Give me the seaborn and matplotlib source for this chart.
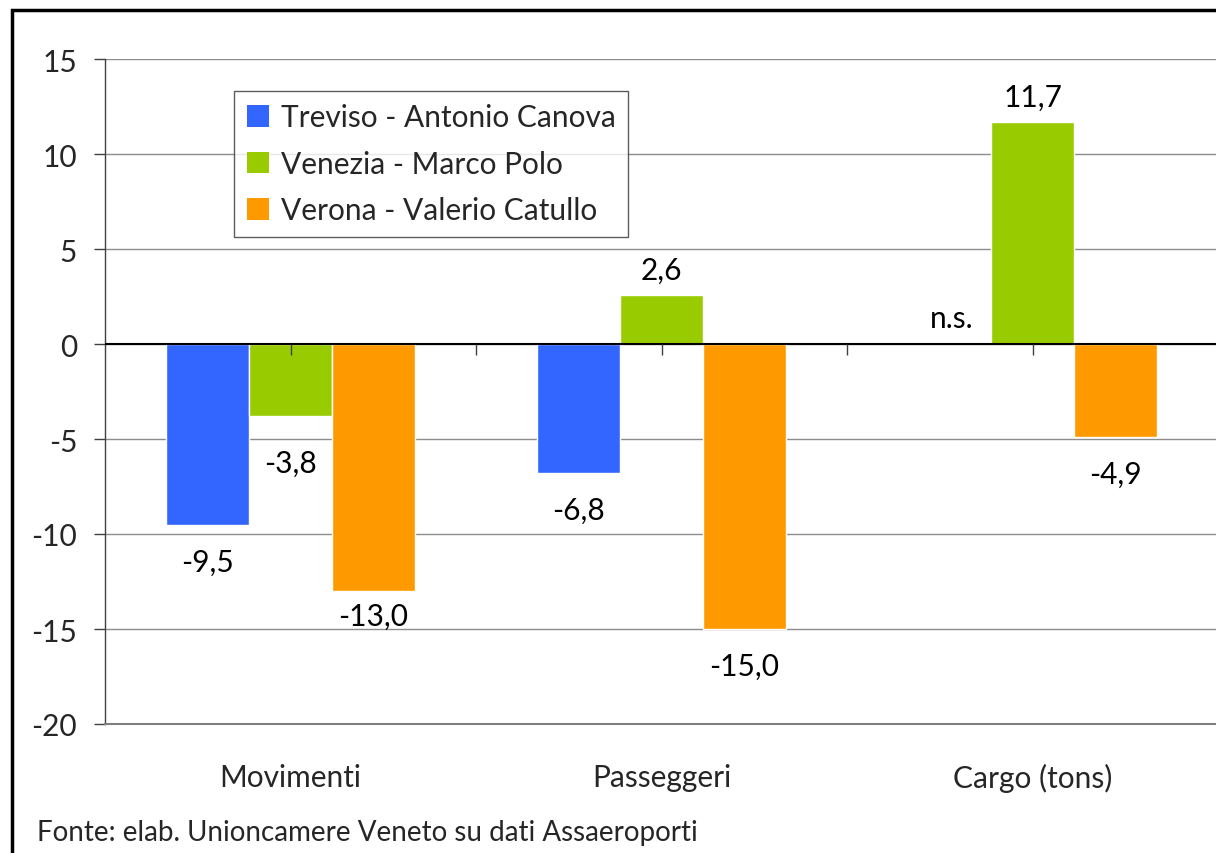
import numpy as np
import pandas as pd
import matplotlib
matplotlib.use("Agg")
import matplotlib.pyplot as plt
import seaborn as sns
from matplotlib.patches import Rectangle, Patch

# Data (variazioni %)
categories = ["Movimenti", "Passeggeri", "Cargo (tons)"]
airports = ["Treviso - Antonio Canova", "Venezia - Marco Polo", "Verona - Valerio Catullo"]
treviso = [-9.5, -6.8, np.nan]   # cargo: n.s.
venezia = [-3.8, 2.6, 11.7]
verona = [-13.0, -15.0, -4.9]
colors = ["#3366FF", "#99CC00", "#FF9900"]
source = "Fonte: elab. Unioncamere Veneto su dati Assaeroporti"

rows = []
for name, vals in zip(airports, [treviso, venezia, verona]):
    for cat, v in zip(categories, vals):
        rows.append({"Categoria": cat, "Aeroporto": name, "Valore": v})
df = pd.DataFrame(rows)

sns.set_theme(style="white")
plt.rcParams["font.family"] = ["Lato", "DejaVu Sans"]
FS = 21.5

fig = plt.figure(figsize=(12.16, 8.54), dpi=100)
ax = fig.add_axes([105 / 1216, 1 - 725 / 854, 1113 / 1216, 665 / 854])

sns.barplot(data=df, x="Categoria", y="Valore", hue="Aeroporto", order=categories,
            hue_order=airports, palette=colors, width=0.67, saturation=1,
            legend=False, ax=ax)

ax.set_xlim(-0.5, 2.5)
ax.set_ylim(-20, 15)
ax.set_yticks(np.arange(-20, 16, 5))
ax.set_yticklabels([f"{int(t)}" for t in np.arange(-20, 16, 5)], fontsize=FS)
ax.tick_params(axis="y", length=8, width=1, color="#404040", pad=12, left=True)
ax.tick_params(axis="x", length=0, pad=28, labelsize=FS)
ax.set_xlabel("")
ax.set_ylabel("")

ax.grid(axis="y", color="#8c8c8c", lw=1)
ax.set_axisbelow(True)
for s in ["top", "right"]:
    ax.spines[s].set_visible(False)
ax.spines["left"].set_color("#404040")
ax.spines["left"].set_linewidth(1)
ax.spines["bottom"].set_color("#7f7f7f")
ax.spines["bottom"].set_linewidth(1.5)

# zero line with tick marks
ax.axhline(0, color="black", lw=1.5, zorder=3)
ax.plot(np.arange(0, 2.6, 0.5), np.zeros(6), marker=3, ls="none",
        ms=8, mew=1, color="#404040", zorder=3, clip_on=False)

# value labels
nudge = {(0, 1): -10, (0, 2): 12}
for i, cont in enumerate(ax.containers):
    for j, bar in enumerate(cont):
        h = bar.get_height()
        if np.isnan(h):
            continue
        x = bar.get_x() + bar.get_width() / 2
        txt = f"{h:.1f}".replace(".", ",")
        if h >= 0:
            off = 25
        else:
            off = -37 + nudge.get((j, i), 0)
        ax.annotate(txt, (x, h), xytext=(0, off * 0.72), textcoords="offset points",
                    ha="center", va="center", fontsize=FS, color="black")

# n.s. for Treviso cargo
ax.annotate("n.s.", (2 - 0.67 / 3, 0), xytext=(17, 19), textcoords="offset points",
            ha="right", va="center", fontsize=FS, color="black")

handles = [Patch(facecolor=c, edgecolor="none") for c in colors]
leg = ax.legend(handles, airports, loc="upper left", bbox_to_anchor=(0.116, 0.952),
                fontsize=FS, frameon=True, fancybox=False, borderpad=0.42,
                labelspacing=0.62, handlelength=0.75, handleheight=0.75,
                handletextpad=0.4, borderaxespad=0)
leg.get_frame().set_edgecolor("#333333")
leg.get_frame().set_linewidth(1)

fig.text(37 / 1216, 1 - 833 / 854, source, fontsize=20, va="center", ha="left")

# outer frame
fig.patches.append(Rectangle((12 / 1216, -0.1), 1.2, 1.1 - 11 / 854,
                             transform=fig.transFigure, fill=False,
                             edgecolor="black", lw=2.5))

fig.savefig("out.png", dpi=100)
